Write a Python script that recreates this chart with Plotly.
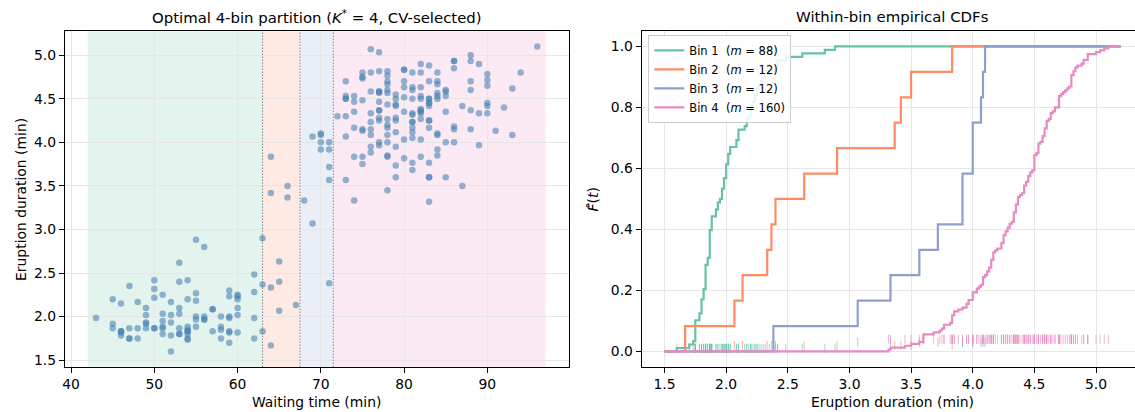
import numpy as np
import plotly.graph_objects as go

# ---------------- data (Old Faithful) ----------------
eruptions = [3.600, 1.800, 3.333, 2.283, 4.533, 2.883, 4.700, 3.600, 1.950, 4.350,
             1.833, 3.917, 4.200, 1.750, 4.700, 2.167, 1.750, 4.800, 1.600, 4.250,
             1.800, 1.750, 3.450, 3.067, 4.533, 3.600, 1.967, 4.083, 3.850, 4.433,
             4.300, 4.467, 3.367, 4.033, 3.833, 2.017, 1.867, 4.833, 1.833, 4.783,
             4.350, 1.883, 4.567, 1.750, 4.533, 3.317, 3.833, 2.100, 4.633, 2.000,
             4.800, 4.716, 1.833, 4.833, 1.733, 4.883, 3.717, 1.667, 4.567, 4.317,
             2.233, 4.500, 1.750, 4.800, 1.817, 4.400, 4.167, 4.700, 2.067, 4.700,
             4.033, 1.967, 4.500, 4.000, 1.983, 5.067, 2.017, 4.567, 3.883, 3.600,
             4.133, 4.333, 4.100, 2.633, 4.067, 4.933, 3.950, 4.517, 2.167, 4.000,
             2.200, 4.333, 1.867, 4.817, 1.833, 4.300, 4.667, 3.750, 1.867, 4.900,
             2.483, 4.367, 2.100, 4.500, 4.050, 1.867, 4.700, 1.783, 4.850, 3.683,
             4.733, 2.300, 4.900, 4.417, 1.700, 4.633, 2.317, 4.600, 1.817, 4.417,
             2.617, 4.067, 4.250, 1.967, 4.600, 3.767, 1.917, 4.500, 2.267, 4.650,
             1.867, 4.167, 2.800, 4.333, 1.833, 4.383, 1.883, 4.933, 2.033, 3.733,
             4.233, 2.233, 4.533, 4.817, 4.333, 1.983, 4.633, 2.017, 5.100, 1.800,
             5.033, 4.000, 2.400, 4.600, 3.567, 4.000, 4.500, 4.083, 1.800, 3.967,
             2.200, 4.150, 2.000, 3.833, 3.500, 4.583, 2.367, 5.000, 1.933, 4.617,
             1.917, 2.083, 4.583, 3.333, 4.167, 4.333, 4.500, 2.417, 4.000, 4.167,
             1.883, 4.583, 4.250, 3.767, 2.033, 4.433, 4.083, 1.833, 4.417, 2.183,
             4.800, 1.833, 4.800, 4.100, 3.966, 4.233, 3.500, 4.366, 2.250, 4.667,
             2.100, 4.350, 4.133, 1.867, 4.600, 1.783, 4.367, 3.850, 1.933, 4.500,
             2.383, 4.700, 1.867, 3.833, 3.417, 4.233, 2.400, 4.800, 2.000, 4.150,
             1.867, 4.267, 1.750, 4.483, 4.000, 4.117, 4.083, 4.267, 3.917, 4.550,
             4.083, 2.417, 4.183, 2.217, 4.450, 1.883, 1.850, 4.283, 3.950, 2.333,
             4.150, 2.350, 4.933, 2.900, 4.583, 3.833, 2.083, 4.367, 2.133, 4.350,
             2.200, 4.450, 3.567, 4.500, 4.150, 3.817, 3.917, 4.450, 2.000, 4.283,
             4.767, 4.533, 1.850, 4.250, 1.983, 2.250, 4.750, 4.117, 2.150, 4.417,
             1.817, 4.467]
waiting = [79, 54, 74, 62, 85, 55, 88, 85, 51, 85, 54, 84, 78, 47, 83, 52, 62, 84, 52, 79,
           51, 47, 78, 69, 74, 83, 55, 76, 78, 79, 73, 77, 66, 80, 74, 52, 48, 80, 59, 90,
           80, 58, 84, 58, 73, 83, 64, 53, 82, 59, 75, 90, 54, 80, 54, 83, 71, 64, 77, 81,
           59, 84, 48, 82, 60, 92, 78, 78, 65, 73, 82, 56, 79, 71, 62, 76, 60, 78, 76, 83,
           75, 82, 70, 65, 73, 88, 76, 80, 48, 86, 60, 90, 50, 78, 63, 72, 84, 75, 51, 82,
           62, 88, 49, 83, 81, 47, 84, 52, 86, 81, 75, 59, 89, 79, 59, 81, 50, 85, 59, 87,
           53, 69, 77, 56, 88, 81, 45, 82, 55, 90, 45, 83, 56, 89, 46, 82, 51, 86, 53, 79,
           81, 60, 82, 77, 76, 59, 80, 49, 96, 53, 77, 77, 65, 81, 71, 70, 81, 93, 53, 89,
           45, 86, 58, 78, 66, 76, 63, 88, 52, 93, 49, 57, 77, 68, 81, 81, 73, 50, 85, 74,
           55, 77, 83, 83, 51, 78, 84, 46, 83, 55, 81, 57, 76, 84, 77, 81, 87, 77, 51, 78,
           60, 82, 91, 53, 78, 46, 77, 84, 49, 83, 71, 80, 49, 75, 64, 76, 53, 94, 55, 76,
           50, 82, 54, 75, 78, 79, 78, 78, 70, 79, 70, 54, 86, 50, 90, 54, 54, 77, 79, 64,
           75, 47, 86, 63, 85, 82, 57, 82, 67, 74, 54, 83, 73, 73, 88, 80, 71, 83, 56, 79,
           78, 84, 58, 83, 43, 60, 75, 81, 46, 90, 46, 74]

bin_sizes = [88, 12, 12, 160]
bin_names = ["Bin 1", "Bin 2", "Bin 3", "Bin 4"]
bin_colors = ["#66c2a5", "#fc8d62", "#8da0cb", "#e78ac3"]
rug_levels = [0.01, 0.02, 0.03, 0.04]
cdf_range = [1.5, 5.2]

left_xticks = [40, 50, 60, 70, 80, 90]
left_yticks = [1.5, 2.0, 2.5, 3.0, 3.5, 4.0, 4.5, 5.0]
right_xticks = [1.5, 2.0, 2.5, 3.0, 3.5, 4.0, 4.5, 5.0]
right_yticks = [0.0, 0.2, 0.4, 0.6, 0.8, 1.0]

left_title = "Optimal 4-bin partition (<i>K</i><sup>*</sup> = 4, CV-selected)"
right_title = "Within-bin empirical CDFs"

# ---------------- partition ----------------
w = np.array(waiting, dtype=float)
e = np.array(eruptions, dtype=float)
order = np.argsort(w, kind="stable")
edges = np.cumsum([0] + bin_sizes)
bins = [order[edges[k]:edges[k + 1]] for k in range(len(bin_sizes))]
bmin = [w[b].min() for b in bins]
bmax = [w[b].max() for b in bins]
bounds = [bmin[0] - 1] + [(bmax[k] + bmin[k + 1]) / 2 for k in range(len(bins) - 1)] + [bmax[-1] + 1]

# ---------------- geometry ----------------
W, H = 1135, 412
FONT = "DejaVu Sans"
top_px, bot_px = 31.3, 367.6
ydom = [1 - bot_px / H, 1 - top_px / H]
l_dom = [62 / W, 567 / W]
r_left_px, r_full_right_px = 640.4, 1143.5
r_dom = [r_left_px / W, 1.0]

lx_pad = 0.05 * (bounds[-1] - bounds[0])
lx_range = [bounds[0] - lx_pad, bounds[-1] + lx_pad]
ly_pad = 0.05 * (e.max() - e.min())
ly_range = [e.min() - ly_pad, e.max() + ly_pad]
rx_pad = 0.05 * (cdf_range[1] - cdf_range[0])
rx_full = [cdf_range[0] - rx_pad, cdf_range[1] + rx_pad]
rx_range = [rx_full[0], rx_full[0] + (W - r_left_px) / (r_full_right_px - r_left_px) * (rx_full[1] - rx_full[0])]
ry_range = [-0.05, 1.05]

fig = go.Figure()

# left: scatter
fig.add_trace(go.Scatter(
    x=w, y=e, mode="markers", xaxis="x", yaxis="y", showlegend=False,
    marker=dict(color="steelblue", size=6.5, opacity=0.58, line=dict(width=0)),
    hoverinfo="skip"))

# right: rugs
for k, b in enumerate(bins):
    vals = np.sort(e[b])
    fig.add_trace(go.Scatter(
        x=vals, y=[rug_levels[k]] * len(vals), mode="markers", xaxis="x2", yaxis="y2",
        showlegend=False, hoverinfo="skip",
        marker=dict(symbol="line-ns", size=6.5, color=bin_colors[k], opacity=0.6,
                    line=dict(color=bin_colors[k], width=1))))

# right: ECDFs
for k, b in enumerate(bins):
    vals = np.sort(e[b])
    m = len(vals)
    xs = [cdf_range[0]] + list(vals) + [cdf_range[1]]
    ys = [0.0] + [(i + 1) / m for i in range(m)] + [1.0]
    fig.add_trace(go.Scatter(
        x=xs, y=ys, mode="lines", xaxis="x2", yaxis="y2", line_shape="hv",
        line=dict(color=bin_colors[k], width=2.2),
        name=f"{bin_names[k]}\u00a0\u00a0(<i>m</i> = {m})", hoverinfo="skip"))

shapes = []
for k in range(len(bins)):
    shapes.append(dict(type="rect", xref="x", yref="y domain", x0=bounds[k], x1=bounds[k + 1],
                       y0=0, y1=1, fillcolor=bin_colors[k], opacity=0.18, line=dict(width=0),
                       layer="below"))
for xb in bounds[1:-1]:
    shapes.append(dict(type="line", xref="x", yref="y domain", x0=xb, x1=xb, y0=0, y1=1,
                       line=dict(color="rgba(60,60,60,0.85)", width=1, dash="1px,2px"), layer="above"))

axis_common = dict(showline=True, linecolor="black", linewidth=1, ticks="outside", ticklen=5,
                   tickwidth=1, tickcolor="black", showgrid=True, gridcolor="#e6e6e6",
                   gridwidth=1, zeroline=False, tickfont=dict(family=FONT, size=13.9, color="black"))

fig.update_layout(
    width=W, height=H, margin=dict(l=0, r=0, t=0, b=0),
    paper_bgcolor="white", plot_bgcolor="white",
    font=dict(family=FONT, color="black"),
    shapes=shapes,
    xaxis=dict(domain=l_dom, range=lx_range, tickvals=left_xticks, mirror=True, anchor="y", **axis_common),
    yaxis=dict(domain=ydom, range=ly_range, tickvals=left_yticks, tickformat=".1f", mirror=True,
               anchor="x", **axis_common),
    xaxis2=dict(domain=r_dom, range=rx_range, tickvals=right_xticks, tickformat=".1f", mirror=True,
                anchor="y2", **axis_common),
    yaxis2=dict(domain=ydom, range=ry_range, tickvals=right_yticks, tickformat=".1f", mirror=False,
                anchor="x2", **axis_common),
    legend=dict(x=647 / W, y=1 - 35 / H, xanchor="left", yanchor="top",
                bgcolor="rgba(255,255,255,0.85)", bordercolor="#cccccc", borderwidth=1,
                font=dict(family=FONT, size=11.5, color="black"), itemwidth=30,
                tracegroupgap=0),
)

l_center = (l_dom[0] + l_dom[1]) / 2
r_center = (r_left_px + r_full_right_px) / 2 / W
ymid = (ydom[0] + ydom[1]) / 2
annots = [
    dict(text=left_title, x=l_center, y=1 - 17 / H, font=dict(size=14.9)),
    dict(text=right_title, x=r_center, y=1 - 17 / H, font=dict(size=14.9)),
    dict(text="Waiting time (min)", x=l_center, y=1 - 403 / H, font=dict(size=13.9)),
    dict(text="Eruption duration (min)", x=r_center, y=1 - 403 / H, font=dict(size=13.9)),
    dict(text="Eruption duration (min)", x=18 / W, y=ymid, textangle=-90, font=dict(size=13.9)),
    dict(text="<i>F\u0302</i>(<i>t</i>)", x=592 / W, y=ymid, textangle=-90, font=dict(size=13.9)),
]
for a in annots:
    a.update(xref="paper", yref="paper", showarrow=False, xanchor="center", yanchor="middle")
    a["font"].update(family=FONT, color="black")
fig.update_layout(annotations=annots)

fig.write_html("out.html", config={"displayModeBar": False},
               post_script="document.body.style.margin='0';")
